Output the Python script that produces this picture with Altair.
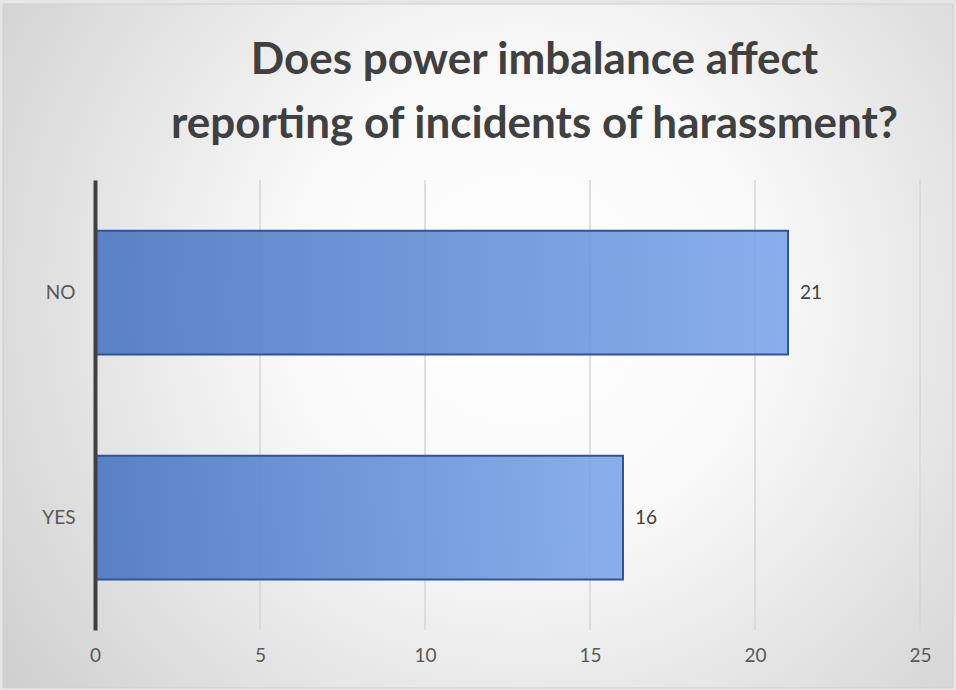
import altair as alt
import pandas as pd

# ---- data ----
categories = ["NO", "YES"]
counts = [21, 16]
tick_values = [0, 5, 10, 15, 20, 25]
grid_values = [5, 10, 15, 20, 25]
title_lines = ["Does power imbalance affect", "reporting of incidents of harassment?"]

bars_df = pd.DataFrame({"answer": categories, "count": counts})
grid_df = pd.DataFrame({"tick": grid_values})

W, H = 825, 450
PAD = {"left": 95, "top": 180, "right": 36, "bottom": 60}
FONT = "Lato"

x_scale = alt.Scale(domain=[0, 25], nice=False)
y_scale = alt.Scale(domain=categories, paddingInner=0.45, paddingOuter=0.225)

bg = alt.Chart(alt.Data(values=[{}])).mark_rect(
    fill=alt.RadialGradient(
        gradient="radial",
        x1=0.55, y1=0.45, r1=0.0,
        x2=0.55, y2=0.45, r2=0.72,
        stops=[
            alt.GradientStop(offset=0.0, color="#ffffff"),
            alt.GradientStop(offset=0.35, color="#f9f9f9"),
            alt.GradientStop(offset=1.0, color="#cbcbcb"),
        ],
    ),
    stroke="#d0d0d0",
    strokeWidth=1,
).encode(
    x=alt.value(-92), x2=alt.value(858), y=alt.value(-176), y2=alt.value(508)
)

grid = alt.Chart(grid_df).mark_rule(color="#d6d6d6", strokeWidth=1.5).encode(
    x=alt.X("tick:Q", scale=x_scale)
)

bars = alt.Chart(bars_df).mark_bar(
    fill=alt.LinearGradient(
        gradient="linear",
        x1=0, y1=0, x2=1, y2=0,
        stops=[
            alt.GradientStop(offset=0.0, color="#4a76c2"),
            alt.GradientStop(offset=1.0, color="#7ea6ec"),
        ],
    ),
    fillOpacity=0.9,
    stroke="#2f5597",
    strokeWidth=2,
).encode(
    y=alt.Y(
        "answer:N",
        scale=y_scale,
        sort=categories,
        axis=alt.Axis(
            title=None,
            domainWidth=4,
            domainColor="#404040",
            ticks=False,
            labelFontSize=19,
            labelFont=FONT,
            labelColor="#595959",
            labelPadding=20,
            zindex=1,
        ),
    ),
    x=alt.X(
        "count:Q",
        scale=x_scale,
        axis=alt.Axis(
            title=None,
            values=tick_values,
            grid=False,
            domain=False,
            ticks=False,
            labelFlush=False,
            labelFontSize=19,
            labelFont=FONT,
            labelColor="#595959",
            labelPadding=16,
            zindex=1,
        ),
    ),
)

labels = alt.Chart(bars_df).mark_text(
    align="left", baseline="middle", dx=12, fontSize=19, font=FONT, color="#404040"
).encode(
    y=alt.Y("answer:N", scale=y_scale, sort=categories),
    x=alt.X("count:Q", scale=x_scale),
    text=alt.Text("count:Q"),
)

chart = alt.layer(bg, grid, bars, labels).properties(
    width=W,
    height=H,
    padding=PAD,
    autosize="none",
    background="#e6e6e6",
    title=alt.TitleParams(
        text=title_lines,
        fontSize=44,
        font=FONT,
        fontWeight="bold",
        color="#404040",
        lineHeight=64,
        anchor="middle",
        dx=27,
        offset=-143,
    ),
).configure_view(stroke=None)

chart.save("out.html", embed_options={"renderer": "svg", "actions": False})
